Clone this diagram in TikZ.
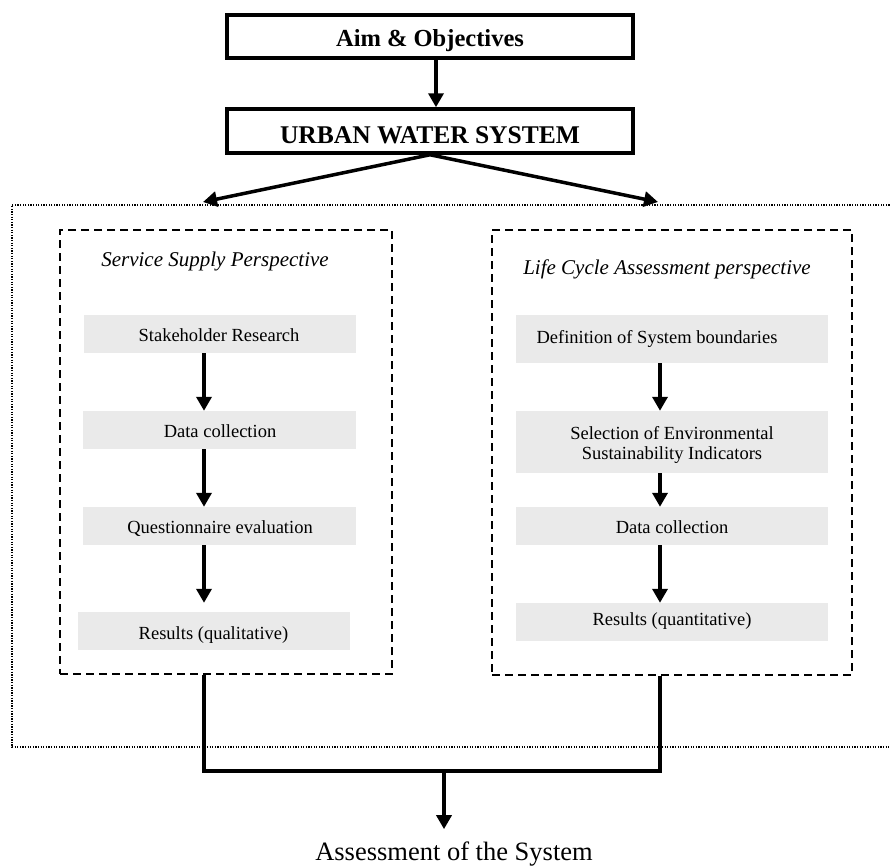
\documentclass[tikz,border=0pt]{standalone}
\usepackage{fontspec}
\setmainfont{Liberation Serif}
\usetikzlibrary{arrows.meta}
\definecolor{stepgray}{RGB}{234,234,234}

\begin{document}
\begin{tikzpicture}[
  x=1pt, y=-1pt,
  mainbox/.style={draw, line width=3.5pt, minimum width=406pt, minimum height=43pt, inner sep=0pt},
  persp/.style={draw, dash pattern=on 8pt off 5pt, line width=2pt, inner sep=0pt},
  stepbox/.style={fill=stepgray, inner sep=0pt},
  txt/.style={anchor=base, inner sep=0pt, align=center, font=\fontsize{18.5}{20}\selectfont},
  headtxt/.style={anchor=base, inner sep=0pt, font=\fontsize{24.5}{28}\selectfont\bfseries},
  titletxt/.style={anchor=base, inner sep=0pt, font=\fontsize{21}{24}\selectfont\itshape},
  arr/.style={line width=3.5pt, -{Triangle[length=14pt, width=15pt]}},
  link/.style={line width=3.5pt},
]
\useasboundingbox (0,0) rectangle (890,867);

% dotted region holding both perspectives (open to the right)
\draw[line width=1.3pt, dash pattern=on 1.3pt off 1.3pt]
  (900,205) -- (12,205) -- (12,747) -- (900,747);

% header boxes
\node[mainbox] (aim) at (430,36.5) {};
\node[headtxt] (aimtxt) at (430,47) {Aim \& Objectives};
\node[mainbox, minimum height=44pt] (uws) at (430,131) {};
\node[headtxt, font=\fontsize{25.5}{28}\selectfont\bfseries] (uwstxt) at (430,143.3) {URBAN WATER SYSTEM};

% the two perspectives
\node[persp, minimum width=332pt, minimum height=444pt] (ssp) at (226,452) {};
\node[persp, minimum width=360pt, minimum height=445pt] (lca) at (672,452.5) {};
\node[titletxt] (ssptitle) at (215,266) {Service Supply Perspective};
\node[titletxt] (lcatitle) at (667,274) {Life Cycle Assessment perspective};

% left column steps
\node[stepbox, minimum width=272pt, minimum height=38pt] (sr)  at (220,334) {};
\node[stepbox, minimum width=273pt, minimum height=38pt] (dcl) at (219.5,430) {};
\node[stepbox, minimum width=273pt, minimum height=38pt] (qe)  at (219.5,526) {};
\node[stepbox, minimum width=272pt, minimum height=38pt] (rql) at (214,631) {};
\node[txt] (srtxt)  at (219,341) {Stakeholder Research};
\node[txt] (dcltxt) at (220,437) {Data collection};
\node[txt] (qetxt)  at (220,533) {Questionnaire evaluation};
\node[txt] (rqltxt) at (213.5,639) {Results (qualitative)};

% right column steps
\node[stepbox, minimum width=312pt, minimum height=48pt] (def) at (672,339) {};
\node[stepbox, minimum width=312pt, minimum height=62pt] (sel) at (672,442) {};
\node[stepbox, minimum width=312pt, minimum height=38pt] (dcr) at (672,526) {};
\node[stepbox, minimum width=312pt, minimum height=38pt] (rqr) at (672,622) {};
\node[txt] (deftxt) at (657,343) {Definition of System boundaries};
\node[txt, anchor=center] (seltxt) at (672,445) {Selection of Environmental\\Sustainability Indicators};
\node[txt] (dcrtxt) at (672,533) {Data collection};
\node[txt] (rqrtxt) at (672,625) {Results (quantitative)};

% final outcome
\node[anchor=base, inner sep=0pt, font=\fontsize{26.5}{30}\selectfont] (assess) at (454,860) {Assessment of the System};

% helper coordinates
\coordinate (ax) at (436,0);
\coordinate (cl) at (204,0);
\coordinate (cr) at (660,0);
\coordinate (tipl) at (203,202);
\coordinate (tipr) at (658,202);
\coordinate (jl) at (204,771);
\coordinate (jr) at (660,771);
\coordinate (jm) at (444,771);

% top connectors
\draw[arr] (aim.south -| ax) -- (uws.north -| ax);
\draw[arr] (uws.south) -- (tipl);
\draw[arr] (uws.south) -- (tipr);

% left flow
\draw[arr] (sr.south -| cl) -- (dcl.north -| cl);
\draw[arr] (dcl.south -| cl) -- (qe.north -| cl);
\draw[arr, shorten >=9pt] (qe.south -| cl) -- (rql.north -| cl);

% right flow
\draw[arr] (def.south -| cr) -- (sel.north -| cr);
\draw[arr] (sel.south -| cr) -- (dcr.north -| cr);
\draw[arr] (dcr.south -| cr) -- (rqr.north -| cr);

% joining both perspectives
\draw[link] (ssp.south -| cl) -- (jl) -- (jr) -- (lca.south -| cr);
\draw[arr, shorten >=12pt] (jm) -- (assess.north -| jm);
\end{tikzpicture}
\end{document}
